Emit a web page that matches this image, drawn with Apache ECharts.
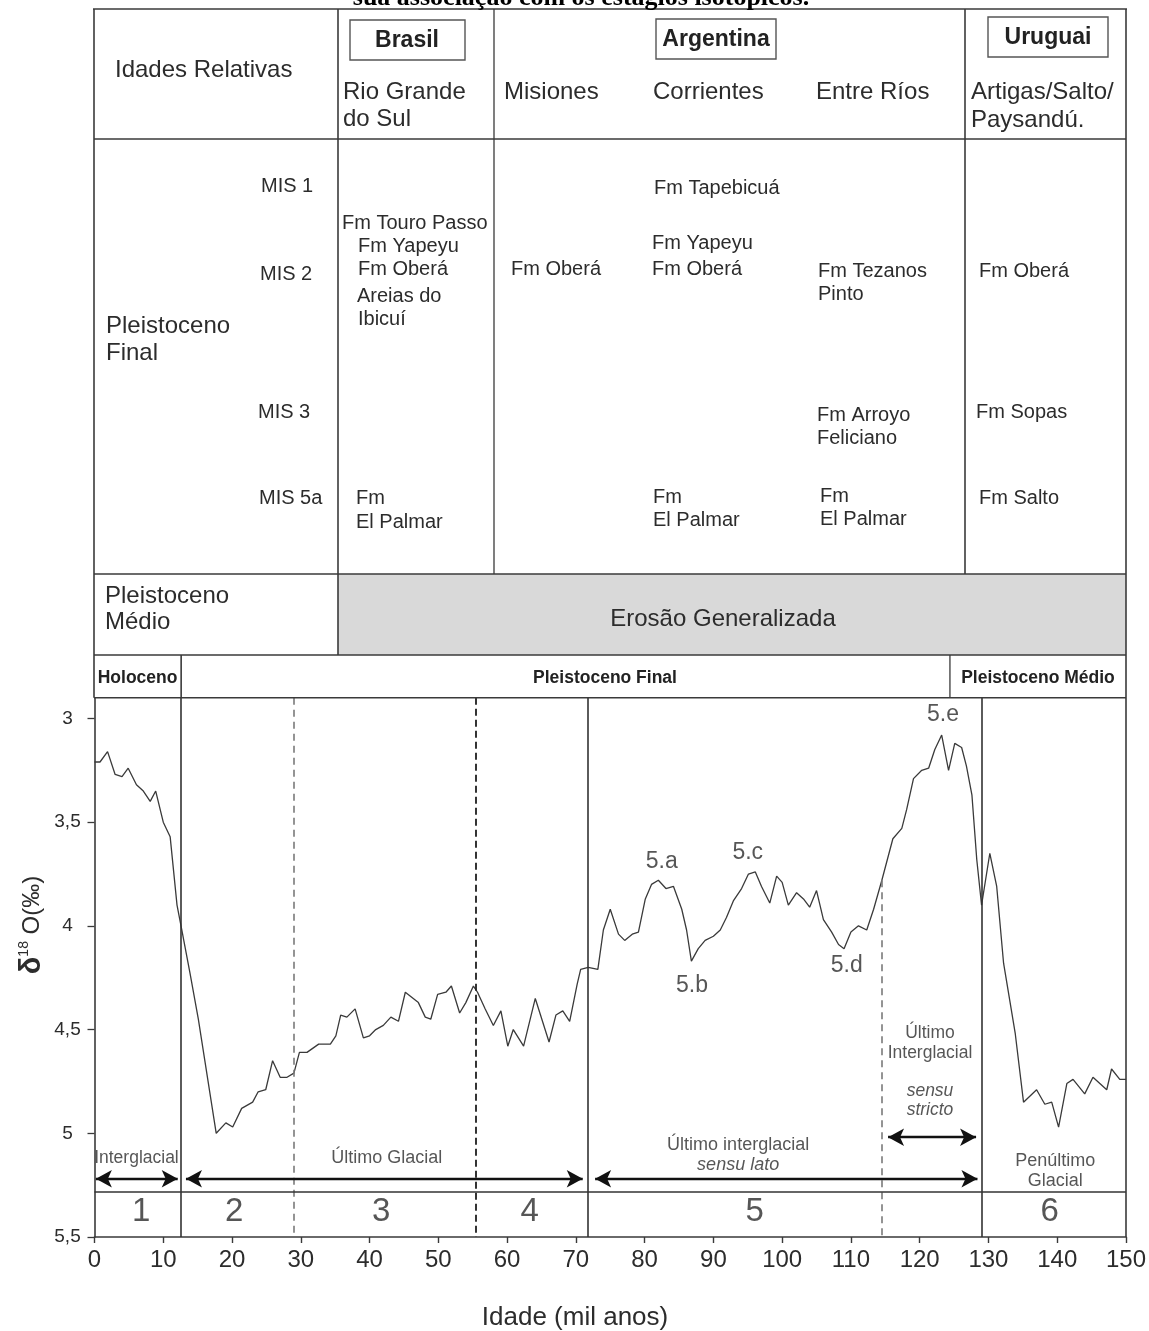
<!DOCTYPE html>
<html><head><meta charset="utf-8">
<script src="https://cdn.jsdelivr.net/npm/echarts@6.0.0/dist/echarts.min.js"></script>
<style>html,body{margin:0;padding:0;background:#fff}#c{width:1149px;height:1331px}</style>
</head><body><div id="c"></div>
<script>
// ---- data ----
const ages = [0,0.8,1.9,3.0,4.0,4.9,6.1,7.1,8.1,8.9,10.0,11.0,12.0,12.7,13.9,15.1,17.7,19.1,20.1,21.4,23.0,23.8,24.9,25.9,27.0,28.0,29.0,29.8,30.9,32.6,33.5,34.3,35.1,35.8,36.7,37.9,39.1,40.0,40.9,42.0,43.1,44.2,45.2,47.1,48.1,48.9,49.9,51.1,51.9,53.1,54.0,55.1,55.7,56.8,58.0,59.1,60.1,60.9,62.4,64.1,66.1,67.1,68.1,69.1,70.2,70.7,71.8,73.2,74.0,75.0,76.2,77.1,78.2,79.1,80.1,81.0,82.0,83.1,84.2,85.4,86.1,86.8,87.8,88.8,90.0,91.0,91.9,92.9,94.1,95.1,96.1,97.0,98.2,99.2,100.0,100.9,102.1,103.1,104.0,105.0,106.0,107.2,108.2,109.0,110.0,111.1,112.3,113.3,114.5,116.1,117.4,118.1,119.1,120.3,121.3,122.2,123.2,124.2,125.1,126.1,126.8,127.6,128.3,129.0,130.2,131.2,132.2,133.9,135.1,137.0,138.2,139.2,140.2,141.4,142.3,144.0,145.2,147.2,147.9,149.1,150.0];
const d18O = [3.21,3.21,3.16,3.27,3.28,3.24,3.32,3.35,3.40,3.35,3.50,3.57,3.90,4.02,4.23,4.45,5.00,4.95,4.97,4.88,4.85,4.80,4.79,4.65,4.73,4.73,4.71,4.61,4.61,4.57,4.57,4.57,4.53,4.43,4.44,4.40,4.54,4.53,4.50,4.48,4.44,4.46,4.32,4.37,4.44,4.45,4.33,4.32,4.29,4.42,4.37,4.29,4.32,4.40,4.48,4.41,4.58,4.50,4.58,4.35,4.56,4.43,4.41,4.46,4.28,4.21,4.20,4.21,4.02,3.92,4.04,4.07,4.04,4.03,3.87,3.80,3.78,3.82,3.81,3.92,4.02,4.17,4.11,4.07,4.05,4.02,3.96,3.88,3.82,3.75,3.74,3.81,3.89,3.76,3.79,3.90,3.84,3.87,3.91,3.83,3.97,4.03,4.09,4.11,4.03,4.00,4.02,3.92,3.78,3.58,3.53,3.44,3.29,3.25,3.24,3.15,3.08,3.25,3.12,3.14,3.23,3.37,3.68,3.90,3.65,3.81,4.18,4.52,4.85,4.79,4.86,4.85,4.97,4.76,4.74,4.81,4.73,4.79,4.69,4.74,4.74];
const yTicks = [3, 3.5, 4, 4.5, 5, 5.5];
// stage boundaries (ka)
const solidBounds = [12.6, 71.8, 129];
const dashedGray = [29];
const dashedBlack = [55.4];
const ssBoundary = [114.5, 3.78];
const stageRowLine = 5.28;
// isotope stage numbers
const stageNames = ['1','2','3','4','5','6'];
const stageAges = [6.8, 20.3, 41.7, 63.3, 96.0, 138.9];
const stageVal = 5.38;
// substages
const subNames = ['5.a','5.b','5.c','5.d','5.e'];
const subAges = [82.5, 86.9, 95.0, 109.4, 123.4];
const subVals = [3.69, 4.29, 3.645, 4.19, 2.98];
// arrows [from, to, level]
const arrows = [[0.2, 12.1, 5.219],[13.3, 71.0, 5.219],[72.8, 128.4, 5.219],[115.4, 128.2, 5.019]];
// period texts [text, age, value, italic, size]
const periodTexts = [
  ['Interglacial', 6.1, 5.119, false, 17.5],
  ['Último Glacial', 42.5, 5.119, false, 18],
  ['Último interglacial', 93.6, 5.058, false, 18],
  ['sensu lato', 93.6, 5.154, true, 18],
  ['Último', 121.5, 4.519, false, 17.5],
  ['Interglacial', 121.5, 4.615, false, 17.5],
  ['sensu', 121.5, 4.797, true, 17.5],
  ['stricto', 121.5, 4.89, true, 17.5],
  ['Penúltimo', 139.7, 5.135, false, 18],
  ['Glacial', 139.7, 5.228, false, 18]
];

const F = '"Liberation Sans", Arial, Helvetica, sans-serif';
const TXT = '#2c2c2c';
const LINE = '#3a3a3a';

const chart = echarts.init(document.getElementById('c'));

const ml = [];
solidBounds.forEach(a => ml.push({xAxis:a, lineStyle:{type:'solid', color:'#333', width:1.6}}));
dashedGray.forEach(a => ml.push({xAxis:a, lineStyle:{type:[7,5], color:'#7a7a7a', width:1.6}}));
dashedBlack.forEach(a => ml.push({xAxis:a, lineStyle:{type:[7,4], color:'#1e1e1e', width:1.8}}));
ml.push([{coord:[ssBoundary[0], ssBoundary[1]], lineStyle:{type:[7,5], color:'#7a7a7a', width:1.6}}, {coord:[ssBoundary[0], 5.5]}]);
ml.push({yAxis:stageRowLine, lineStyle:{type:'solid', color:'#333', width:1.6}});
arrows.forEach(r => ml.push([
  {coord:[r[0], r[2]], symbol:'arrow', symbolSize:[13,16], lineStyle:{type:'solid', color:'#111', width:2.4}},
  {coord:[r[1], r[2]], symbol:'arrow', symbolSize:[13,16]}
]));

const labelData = [];
stageNames.forEach((n,i) => labelData.push({name:n, value:[stageAges[i], stageVal], label:{fontSize:33}}));
subNames.forEach((n,i) => labelData.push({name:n, value:[subAges[i], subVals[i]], label:{fontSize:23}}));
periodTexts.forEach(p => labelData.push({name:p[0], value:[p[1], p[2]], label:{fontSize:p[4], fontStyle:p[3]?'italic':'normal'}}));

const option = {
  animation:false,
  backgroundColor:'#fff',
  grid:{left:94.5, right:23, top:697.7, bottom:94},
  xAxis:{type:'value', min:0, max:150, interval:10,
    axisLine:{lineStyle:{color:LINE, width:1.6}},
    axisTick:{length:6, lineStyle:{color:LINE, width:1.4}},
    axisLabel:{fontSize:24, color:TXT, fontFamily:F, margin:11, showMinLabel:true, showMaxLabel:true},
    splitLine:{show:false}},
  yAxis:{type:'value', inverse:true, min:2.9, max:5.5,
    axisLine:{show:true, lineStyle:{color:LINE, width:1.6}},
    axisTick:{show:true, length:7, customValues:yTicks, lineStyle:{color:LINE, width:1.3}},
    axisLabel:{customValues:yTicks, align:'center', margin:27, fontSize:19, color:TXT, fontFamily:F,
      formatter: v => String(v).replace('.', ',')},
    splitLine:{show:false}},
  series:[
    {type:'line', data:ages.map((a,i)=>[a, d18O[i]]), symbol:'none', z:3,
     lineStyle:{color:'#3a3a3a', width:1.3},
     markLine:{silent:true, symbol:'none', label:{show:false}, animation:false, data:ml}},
    {type:'scatter', data:labelData, symbolSize:1, itemStyle:{color:'rgba(0,0,0,0)'}, z:4, silent:true,
     label:{show:true, position:'inside', formatter:'{b}', color:TXT, fontFamily:F}}
  ]
};
chart.setOption(option);

// ---- table / frame decoration ----
const G = [];
function ln(x1,y1,x2,y2,w,c){G.push({type:'line', silent:true, z:10, shape:{x1,y1,x2,y2}, style:{stroke:c||LINE, lineWidth:w||1.6}});}
function rc(x,y,w,h,fill,stroke,lw){G.push({type:'rect', silent:true, z:fill?1:10, shape:{x,y,width:w,height:h}, style:{fill:fill||'none', stroke:stroke||'none', lineWidth:lw||1}});}
function tx(x,y,t,o){o=o||{};G.push({type:'text', silent:true, z:11, x, y, rotation:o.rot||0,
  style:{text:t, fill:o.c||TXT, fontSize:o.s||20, fontFamily:o.f||F, fontWeight:o.b?'bold':'normal', fontStyle:o.i?'italic':'normal',
  align:o.a||'left', verticalAlign:'middle', rich:o.rich}});}

const xL = 94, xR = 1126;
const xHolo = chart.convertToPixel({xAxisIndex:0}, solidBounds[0]);
const xMed = chart.convertToPixel({xAxisIndex:0}, 124.4);
const yTopPlot = chart.convertToPixel({yAxisIndex:0}, 2.9);
const yBot = chart.convertToPixel({yAxisIndex:0}, 5.5);

rc(338, 574, xR-338, 655-574, '#d9d9d9');
ln(xL-1, 9, xR+1, 9);
ln(xL, 9, xL, yTopPlot);
ln(xR, 9, xR, yBot);
ln(338, 9, 338, 655);
ln(494, 9, 494, 574, 1.3);
ln(965, 9, 965, 574);
ln(xL, 139, xR, 139);
ln(xL, 574, xR, 574);
ln(xL, 655, xR, 655);
ln(xHolo, 655, xHolo, yTopPlot);
ln(xMed, 655, xMed, yTopPlot, 1.3);
ln(xL, yTopPlot, xR, yTopPlot);
rc(350, 20, 115, 40, null, '#555', 1.4);
rc(656, 19, 120, 40, null, '#555', 1.4);
rc(988, 17, 120, 40, null, '#555', 1.4);

tx(581, -2, 'sua associação com os estágios isotópicos.', {a:'center', s:26, b:true, f:'"Liberation Serif", "Times New Roman", serif', c:'#000'});
tx(115, 70, 'Idades Relativas', {s:24});
tx(407, 41, 'Brasil', {a:'center', s:23, b:true, c:'#222'});
tx(716, 40, 'Argentina', {a:'center', s:23, b:true, c:'#222'});
tx(1048, 38, 'Uruguai', {a:'center', s:23, b:true, c:'#222'});
tx(343, 92, 'Rio Grande', {s:24}); tx(343, 119, 'do Sul', {s:24});
tx(504, 92, 'Misiones', {s:24});
tx(653, 92, 'Corrientes', {s:24});
tx(816, 92, 'Entre Ríos', {s:24});
tx(971, 92, 'Artigas/Salto/', {s:24}); tx(971, 120, 'Paysandú.', {s:24});
[['MIS 1',261,186],['MIS 2',260,274],['MIS 3',258,412],['MIS 5a',259,498]].forEach(m=>tx(m[1],m[2],m[0],{s:20}));
tx(106, 326, 'Pleistoceno', {s:24}); tx(106, 353, 'Final', {s:24});
[['Fm Touro Passo',342,223],['Fm Yapeyu',358,246],['Fm Oberá',358,269],['Areias do',357,296],['Ibicuí',358,319],['Fm',356,498],['El Palmar',356,522],
 ['Fm Oberá',511,269],
 ['Fm Tapebicuá',654,188],['Fm Yapeyu',652,243],['Fm Oberá',652,269],['Fm',653,497],['El Palmar',653,520],
 ['Fm Tezanos',818,271],['Pinto',818,294],['Fm Arroyo',817,415],['Feliciano',817,438],['Fm',820,496],['El Palmar',820,519],
 ['Fm Oberá',979,271],['Fm Sopas',976,412],['Fm Salto',979,498]].forEach(m=>tx(m[1],m[2],m[0],{s:20}));
tx(105, 596, 'Pleistoceno', {s:24}); tx(105, 622, 'Médio', {s:24});
tx(723, 619, 'Erosão Generalizada', {a:'center', s:24});
tx((xL+xHolo)/2, 678, 'Holoceno', {a:'center', s:17.5, b:true, c:'#222'});
tx(605, 678, 'Pleistoceno Final', {a:'center', s:17.5, b:true, c:'#222'});
tx((xMed+xR)/2, 678, 'Pleistoceno Médio', {a:'center', s:17.5, b:true, c:'#222'});
tx(575, 1318, 'Idade (mil anos)', {a:'center', s:26});
tx(32, 925, '{d|δ}{s|18}{n| O(‰)}', {a:'center', rot:Math.PI/2, s:24,
  rich:{d:{fontSize:29, fontWeight:'bold', fontFamily:F, fill:TXT}, s:{fontSize:14, fontFamily:F, fill:TXT, verticalAlign:'top', padding:[0,0,12,0]}, n:{fontSize:24, fontFamily:F, fill:TXT}}});

chart.setOption({graphic:{elements:G}});
</script>
</body></html>
